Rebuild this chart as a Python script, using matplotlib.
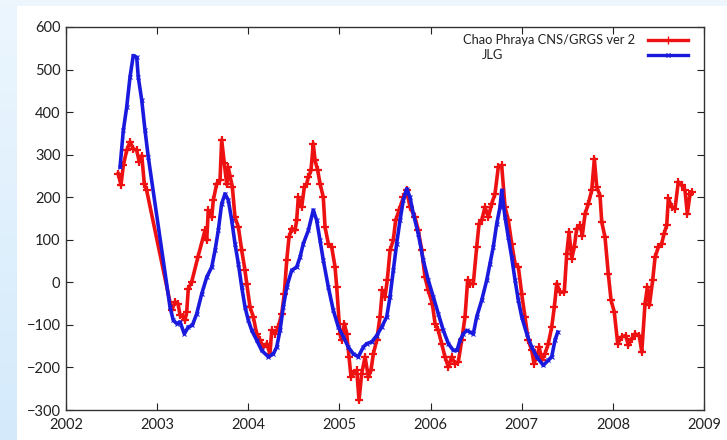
import numpy as np
import matplotlib
matplotlib.use("Agg")
import matplotlib.pyplot as plt
from matplotlib.lines import Line2D
from matplotlib.colors import LinearSegmentedColormap

# Chao Phraya CNS/GRGS ver 2 (red), decimal year offsets from 2002 and values
red_t = [0.574, 0.603, 0.629, 0.666, 0.702, 0.738, 0.776, 0.804, 0.831, 0.859, 0.885,
         1.160, 1.196, 1.229, 1.251, 1.287, 1.306, 1.324, 1.342, 1.379, 1.448,
         1.525, 1.544, 1.561, 1.599, 1.616, 1.654, 1.690, 1.708, 1.737, 1.763,
         1.781, 1.799, 1.825, 1.854, 1.891, 1.928, 1.964, 1.983, 2.019, 2.055,
         2.092, 2.129, 2.165, 2.202, 2.238, 2.257, 2.293, 2.329, 2.367, 2.395,
         2.422, 2.447, 2.476, 2.513, 2.531, 2.549, 2.586, 2.615, 2.641, 2.659,
         2.688, 2.713, 2.732, 2.762, 2.787, 2.823, 2.842, 2.878, 2.915, 2.952,
         2.970, 3.006, 3.025, 3.054, 3.080, 3.105, 3.127, 3.152, 3.190, 3.215,
         3.244, 3.281, 3.317, 3.346, 3.372, 3.409, 3.445, 3.471, 3.500, 3.525,
         3.555, 3.591, 3.617, 3.654, 3.701, 3.738, 3.774, 3.829, 3.865, 3.903,
         3.939, 3.975, 4.019, 4.049, 4.085, 4.122, 4.158, 4.195, 4.232, 4.268,
         4.304, 4.342, 4.378, 4.407, 4.433, 4.469, 4.506, 4.532, 4.561, 4.597,
         4.634, 4.671, 4.707, 4.743, 4.780, 4.817, 4.853, 4.890, 4.927, 4.963,
         5.000, 5.036, 5.072, 5.110, 5.135, 5.164, 5.193, 5.219, 5.255, 5.292,
         5.329, 5.358, 5.384, 5.420, 5.467, 5.494, 5.519, 5.549, 5.577, 5.603,
         5.640, 5.665, 5.695, 5.731, 5.768, 5.797, 5.823, 5.859, 5.878, 5.914,
         5.950, 5.980, 6.016, 6.053, 6.097, 6.141, 6.170, 6.207, 6.243, 6.290,
         6.317, 6.353, 6.379, 6.401, 6.437, 6.463, 6.499, 6.536, 6.561, 6.591,
         6.609, 6.646, 6.682, 6.718, 6.755, 6.792, 6.817, 6.847, 6.865]
red_v = [255, 228, 275, 310, 330, 314, 310, 283, 298, 232, 216,
         -66, -46, -50, -77, -81, -89, -70, -15, 1, 60,
         122, 99, 169, 153, 193, 232, 240, 335, 280, 230,
         270, 250, 225, 153, 130, 75, 28, -3, -58, -81,
         -121, -136, -152, -144, -168, -113, -121, -105, -74, -27,
         52, 106, 126, 122, 146, 200, 177, 224, 232, 247,
         263, 326, 287, 263, 232, 200, 130, 91, 83, 36,
         -11, -121, -136, -97, -121, -175, -222, -215, -207, -277,
         -215, -175, -222, -207, -168, -136, -81, -19, -34, 5,
         75, 99, 146, 169, 200, 216, 177, 153, 122, 75,
         12, -19, -50, -97, -113, -144, -175, -199, -175, -191,
         -187, -136, -81, 5, -3, -3, 83, 138, 146, 177,
         153, 185, 208, 271, 275, 177, 146, 91, 44, 36,
         -27, -81, -136, -160, -191, -175, -152, -183, -168, -144,
         -105, -58, -3, -23, -23, 67, 118, 56, 83, 126,
         134, 110, 161, 185, 216, 290, 224, 204, 142, 106,
         20, -42, -70, -144, -128, -125, -148, -132, -121, -125,
         -164, -50, -11, -54, 5, 59, 83, 91, 114, 134,
         197, 177, 173, 236, 228, 216, 161, 208, 212]

# JLG (blue)
blue_t = [0.593, 0.629, 0.666, 0.702, 0.738, 0.776, 0.793, 0.831, 0.867, 0.903,
          1.141, 1.177, 1.215, 1.251, 1.298, 1.342, 1.386, 1.434, 1.489, 1.544,
          1.599, 1.635, 1.671, 1.708, 1.745, 1.781, 1.818, 1.854, 1.891, 1.928,
          1.964, 2.000, 2.038, 2.092, 2.147, 2.220, 2.275, 2.312, 2.348, 2.384,
          2.422, 2.476, 2.531, 2.567, 2.604, 2.659, 2.713, 2.750, 2.787, 2.823,
          2.878, 2.933, 2.988, 3.043, 3.097, 3.152, 3.207, 3.262, 3.299, 3.354,
          3.409, 3.464, 3.519, 3.555, 3.591, 3.628, 3.665, 3.701, 3.738, 3.774,
          3.811, 3.865, 3.920, 3.975, 4.030, 4.085, 4.140, 4.195, 4.250, 4.290,
          4.323, 4.359, 4.397, 4.433, 4.469, 4.506, 4.561, 4.616, 4.652, 4.688,
          4.726, 4.762, 4.780, 4.817, 4.853, 4.890, 4.927, 4.963, 5.000, 5.055,
          5.110, 5.164, 5.237, 5.292, 5.329, 5.365, 5.395]
blue_v = [271, 357, 412, 482, 533, 529, 482, 428, 357, 294,
          -58, -89, -97, -93, -121, -105, -101, -74, -27, 12,
          36, 75, 122, 185, 208, 193, 146, 91, 44, -11,
          -58, -89, -113, -136, -160, -175, -168, -152, -113, -58,
          -11, 28, 36, 59, 91, 122, 170, 146, 99, 52,
          -11, -66, -105, -128, -152, -168, -175, -152, -144, -140,
          -125, -105, -81, -34, 28, 91, 146, 193, 220, 200,
          161, 114, 52, 5, -34, -74, -113, -144, -160, -160,
          -136, -121, -113, -117, -121, -81, -42, 5, 44, 83,
          138, 177, 216, 153, 106, 59, 5, -42, -81, -121,
          -152, -175, -195, -183, -175, -136, -117]

labels = ["Chao Phraya CNS/GRGS ver 2", "JLG"]
xticks = list(range(2002, 2010))
yticks = list(range(-300, 601, 100))

plt.rcParams['font.family'] = ['Lato', 'DejaVu Sans']

fig = plt.figure(figsize=(7.27, 4.40), dpi=100)
fig.patch.set_facecolor('white')

# light blue slide border (left gradient strip and top strip)
bg = fig.add_axes([0, 0, 1, 1], zorder=-10)
bg.set_axis_off()
grad = np.linspace(0, 1, 100).reshape(-1, 1)
cm = LinearSegmentedColormap.from_list('edge', ['#d4eafb', '#ecf6fe'])
bg.imshow(grad, cmap=cm, aspect='auto', extent=[0, 17/727, 0, 1], origin='lower')
bg.add_patch(plt.Rectangle((0, 1 - 6/440), 1, 6/440, color='#eef6fd', lw=0))
bg.set_xlim(0, 1)
bg.set_ylim(0, 1)

ax = fig.add_axes([66/727, 1 - 410/440, 638/727, 383/440])
ax.set_facecolor('white')

rx = 2002 + np.array(red_t)
bx = 2002 + np.array(blue_t)
ax.plot(rx, red_v, color='#ee1111', lw=2.6, marker='+', ms=6, mew=1.6, zorder=2)
ax.plot(bx, blue_v, color='#1a1adf', lw=2.6, marker='x', ms=3.5, mew=0.8, zorder=3)

ax.set_xlim(2002, 2009)
ax.set_ylim(-300, 600)
ax.set_xticks(xticks)
ax.set_yticks(yticks)
ax.tick_params(direction='in', top=True, right=True, length=5, width=0.8,
               labelsize=10.5, colors='#222222', pad=4)
ax.tick_params(axis='x', pad=6)
for s in ax.spines.values():
    s.set_linewidth(1.0)
    s.set_color('#333333')

# legend in gnuplot style
ax.text(0.892, 0.966, labels[0], transform=ax.transAxes, ha='right', va='center',
        fontsize=9.3, color='#222222')
ax.text(0.652, 0.927, labels[1], transform=ax.transAxes, ha='left', va='center',
        fontsize=9.3, color='#222222')
ax.add_line(Line2D([0.912, 0.944, 0.975], [0.966, 0.966, 0.966], transform=ax.transAxes,
                   color='#ee1111', lw=2.4, marker='+', ms=6, markevery=[1]))
ax.add_line(Line2D([0.912, 0.944, 0.975], [0.927, 0.927, 0.927], transform=ax.transAxes,
                   color='#1a1adf', lw=2.4, marker='x', ms=3.5, markevery=[1]))

fig.savefig('out.png', dpi=100)
